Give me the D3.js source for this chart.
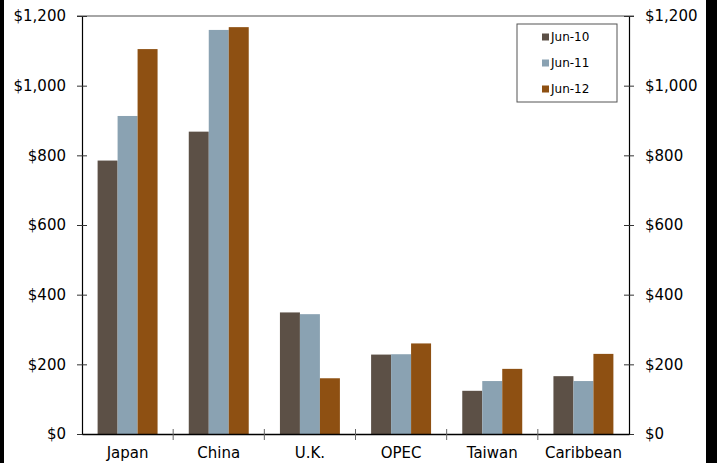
<!DOCTYPE html>
<html>
<head>
<meta charset="utf-8">
<script src="https://cdn.jsdelivr.net/npm/d3@7"></script>
<style>
  body { margin: 0; background: #fff; }
  svg { display: block; font-family: 'DejaVu Sans', Verdana, sans-serif; }
</style>
</head>
<body>
<div id="chart"></div>
<script>
const categories = ['Japan', 'China', 'U.K.', 'OPEC', 'Taiwan', 'Caribbean']
const seriesNames = ['Jun-10', 'Jun-11', 'Jun-12']
const jun10 = [785, 868, 349, 228, 124, 166]
const jun11 = [913, 1160, 344, 229, 152, 152]
const jun12 = [1105, 1168, 160, 260, 187, 230]
const yTicks = [0, 200, 400, 600, 800, 1000, 1200]
const colors = ['#5c5046', '#8aa2b2', '#8e5012']

const width = 717
const height = 463
const plot = { left: 82, right: 629, top: 16, bottom: 434 }

const seriesValues = [jun10, jun11, jun12]
const dataParsed = categories.map((c, i) => {
  const row = { category: c }
  seriesNames.forEach((s, j) => { row[s] = seriesValues[j][i] })
  return row
})

const svg = d3.select('#chart').append('svg')
  .attr('width', width)
  .attr('height', height)

// frame edges
svg.append('rect').attr('x', 0).attr('y', 0).attr('width', 4).attr('height', height).attr('fill', '#000')
svg.append('rect').attr('x', 706).attr('y', 0).attr('width', 11).attr('height', height).attr('fill', '#000')

const xScale = d3.scaleBand()
  .domain(categories)
  .range([plot.left, plot.right])

const innerPad = 15.6
const xSub = d3.scaleBand()
  .domain(seriesNames)
  .range([innerPad, xScale.bandwidth() - innerPad])

const yScale = d3.scaleLinear()
  .domain([0, 1200])
  .range([plot.bottom, plot.top])

// top border of plot
svg.append('line')
  .attr('x1', plot.left - 5).attr('x2', plot.right + 5)
  .attr('y1', plot.top).attr('y2', plot.top)
  .attr('stroke', '#a6a6a6').attr('stroke-width', 2)

// bars
seriesNames.forEach((s, i) => {
  svg.append('g')
    .selectAll('rect')
    .data(dataParsed)
    .join('rect')
    .attr('x', d => xScale(d.category) + xSub(s))
    .attr('y', d => yScale(d[s]))
    .attr('width', xSub.bandwidth())
    .attr('height', d => yScale(0) - yScale(d[s]))
    .attr('fill', colors[i])
})

// left axis
const yAxisLeft = d3.axisLeft(yScale).tickValues(yTicks).tickSize(0)
  .tickFormat(d => '$' + d3.format(',')(d))
svg.append('g')
  .attr('transform', `translate(${plot.left},0)`)
  .call(yAxisLeft)
  .call(g => g.select('.domain').attr('stroke', '#000').attr('stroke-width', 1.2))
  .call(g => g.selectAll('.tick line').attr('x1', -5).attr('x2', 5).attr('stroke', '#333'))
  .call(g => g.selectAll('.tick text')
    .attr('x', -16)
    .attr('font-size', 15)
    .attr('font-family', "'DejaVu Sans', Verdana, sans-serif")
    .attr('fill', '#000'))

// right axis
const yAxisRight = d3.axisRight(yScale).tickValues(yTicks).tickSize(0)
  .tickFormat(d => '$' + d3.format(',')(d))
svg.append('g')
  .attr('transform', `translate(${plot.right},0)`)
  .call(yAxisRight)
  .call(g => g.select('.domain').attr('stroke', '#000').attr('stroke-width', 1.2))
  .call(g => g.selectAll('.tick line').attr('x1', -5).attr('x2', 5).attr('stroke', '#333'))
  .call(g => g.selectAll('.tick text')
    .attr('x', 16)
    .attr('font-size', 15)
    .attr('font-family', "'DejaVu Sans', Verdana, sans-serif")
    .attr('fill', '#000'))

// x axis
const xAxis = d3.axisBottom(xScale).tickSize(0)
svg.append('g')
  .attr('transform', `translate(0,${plot.bottom})`)
  .call(xAxis)
  .call(g => g.select('.domain').attr('stroke', '#000').attr('stroke-width', 1.5))
  .call(g => g.selectAll('.tick line').remove())
  .call(g => g.selectAll('.tick text')
    .attr('y', 13)
    .attr('font-size', 15)
    .attr('font-family', "'DejaVu Sans', Verdana, sans-serif")
    .attr('fill', '#000'))

// category separators
svg.append('g')
  .selectAll('line')
  .data(categories.slice(1))
  .join('line')
  .attr('x1', d => xScale(d)).attr('x2', d => xScale(d))
  .attr('y1', plot.bottom - 5).attr('y2', plot.bottom + 6)
  .attr('stroke', '#666').attr('stroke-width', 1)

// legend
const legend = svg.append('g').attr('transform', 'translate(517,24)')
legend.append('rect')
  .attr('width', 100).attr('height', 78)
  .attr('fill', '#fff').attr('stroke', '#555').attr('stroke-width', 1)
const legendItems = legend.selectAll('g.item')
  .data(seriesNames)
  .join('g')
  .attr('class', 'item')
  .attr('transform', (d, i) => `translate(25,${13 + i * 26})`)
legendItems.append('rect')
  .attr('x', 0).attr('y', -3.5)
  .attr('width', 7).attr('height', 7)
  .attr('fill', (d, i) => colors[i])
legendItems.append('text')
  .attr('x', 9).attr('y', 0)
  .attr('dominant-baseline', 'central')
  .attr('font-size', 12)
  .text(d => d)
</script>
</body>
</html>
